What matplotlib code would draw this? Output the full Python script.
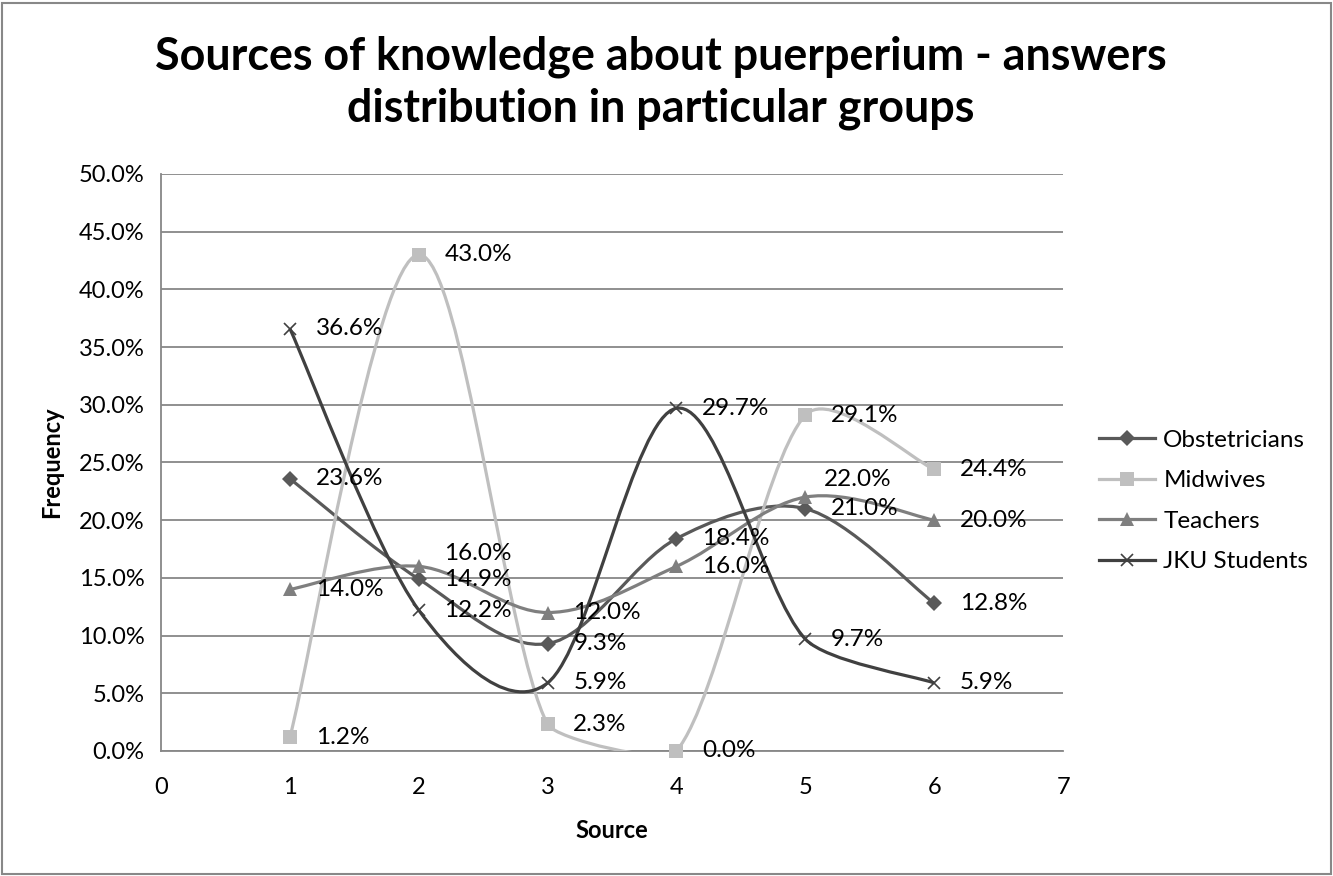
import math
import matplotlib
matplotlib.use("Agg")
import matplotlib.pyplot as plt
from matplotlib.path import Path
from matplotlib.patches import PathPatch, Rectangle
from matplotlib.lines import Line2D
from matplotlib.ticker import FuncFormatter, MultipleLocator

plt.rcParams['font.family'] = ['Lato', 'DejaVu Sans']

# ---- data ----
sources = [1, 2, 3, 4, 5, 6]
obstetricians = [23.6, 14.9, 9.3, 18.4, 21.0, 12.8]
midwives = [1.2, 43.0, 2.3, 0.0, 29.1, 24.4]
teachers = [14.0, 16.0, 12.0, 16.0, 22.0, 20.0]
jku_students = [36.6, 12.2, 5.9, 29.7, 9.7, 5.9]
series_names = ["Obstetricians", "Midwives", "Teachers", "JKU Students"]
title = "Sources of knowledge about puerperium - answers\ndistribution in particular groups"

# ---- styles ----
styles = [
    dict(color="#595959", marker="D", ms=8.5, mew=0),
    dict(color="#BFBFBF", marker="s", ms=9.5, mew=0),
    dict(color="#7F7F7F", marker="^", ms=10, mew=0),
    dict(color="#404040", marker="x", ms=9, mew=1.2),
]
FS = 17
FS_LBL = 17.5
label_adjust = {(2, 1): (18, 9), (2, 4): (13, 13)}

fig = plt.figure(figsize=(13.33, 8.76), dpi=100)
ax = fig.add_axes([0.1208, 0.1427, 0.7975 - 0.1208, 0.8014 - 0.1427])
ax.set_xlim(0, 7)
ax.set_ylim(0, 50)


def smooth_path(xs, ys):
    # Excel-like clamped Bezier smoothing of the given points
    pts = list(zip(xs, ys))
    n = len(pts)

    def dist(a, b):
        return math.hypot(a[0] - b[0], a[1] - b[1])

    verts = [pts[0]]
    codes = [Path.MOVETO]
    for i in range(n - 1):
        p0 = pts[i - 1] if i > 0 else pts[i]
        p1 = pts[i]
        p2 = pts[i + 1]
        p3 = pts[i + 2] if i + 2 < n else pts[i + 1]
        d02, d12, d13 = dist(p0, p2), dist(p1, p2), dist(p1, p3)
        f = 1 / 6
        g = 1 / 6
        if d02 / 6 >= d12 / 2 and d02 > 0:
            f = d12 / d02 / 2
        if d13 / 6 >= d12 / 2 and d13 > 0:
            g = d12 / d13 / 2
        c1 = (p1[0] + (p2[0] - p0[0]) * f, p1[1] + (p2[1] - p0[1]) * f)
        c2 = (p2[0] - (p3[0] - p1[0]) * g, p2[1] - (p3[1] - p1[1]) * g)
        verts += [c1, c2, p2]
        codes += [Path.CURVE4] * 3
    return Path(verts, codes)


all_series = [obstetricians, midwives, teachers, jku_students]
handles = []
for si, (vals, st) in enumerate(zip(all_series, styles)):
    patch = PathPatch(smooth_path(sources, vals), facecolor="none",
                      edgecolor=st["color"], lw=2.3, zorder=3 + si)
    ax.add_patch(patch)
    ax.plot(sources, vals, ls="none", marker=st["marker"], ms=st["ms"],
            color=st["color"], mec=st["color"], mew=st["mew"], zorder=3 + si,
            clip_on=False)
    handles.append(Line2D([0], [0], color=st["color"], lw=2.3, marker=st["marker"],
                          ms=st["ms"], mec=st["color"], mew=st["mew"]))
    for pi, (x, v) in enumerate(zip(sources, vals)):
        off = label_adjust.get((si, pi), (18.5, 0))
        ax.annotate(f"{v:.1f}%", (x, v), xytext=off, textcoords="offset points",
                    ha="left", va="center", fontsize=FS_LBL, color="black", zorder=10)

ax.xaxis.set_major_locator(MultipleLocator(1))
ax.yaxis.set_major_locator(MultipleLocator(5))
ax.yaxis.set_major_formatter(FuncFormatter(lambda v, p: f"{v:.1f}%"))
ax.grid(axis="y", color="#878787", lw=1.3)
ax.set_axisbelow(True)
for s in ["top", "right"]:
    ax.spines[s].set_visible(False)
for s in ["left", "bottom"]:
    ax.spines[s].set_color("#878787")
    ax.spines[s].set_linewidth(1.3)
ax.tick_params(axis="y", length=0, labelsize=FS, pad=12)
ax.tick_params(axis="x", length=0, labelsize=FS, pad=19)
ax.set_xlabel("Source", fontsize=FS, fontweight="bold", labelpad=14.5)
ax.set_ylabel("Frequency", fontsize=FS, fontweight="bold", labelpad=11)

fig.suptitle(title, fontsize=32.3, fontweight="bold", y=0.96, x=0.496,
             linespacing=1.3)

fig.legend(handles=handles, labels=series_names, loc="center left",
           bbox_to_anchor=(0.808, 0.428), frameon=False, fontsize=FS_LBL,
           handlelength=2.3, labelspacing=0.8, handletextpad=0.35)

fig.patches.append(Rectangle((0.0015, 0.002), 0.997, 0.995, transform=fig.transFigure,
                             fill=False, edgecolor="#888888", lw=1.5, zorder=0))

fig.savefig("out.png", dpi=100)
